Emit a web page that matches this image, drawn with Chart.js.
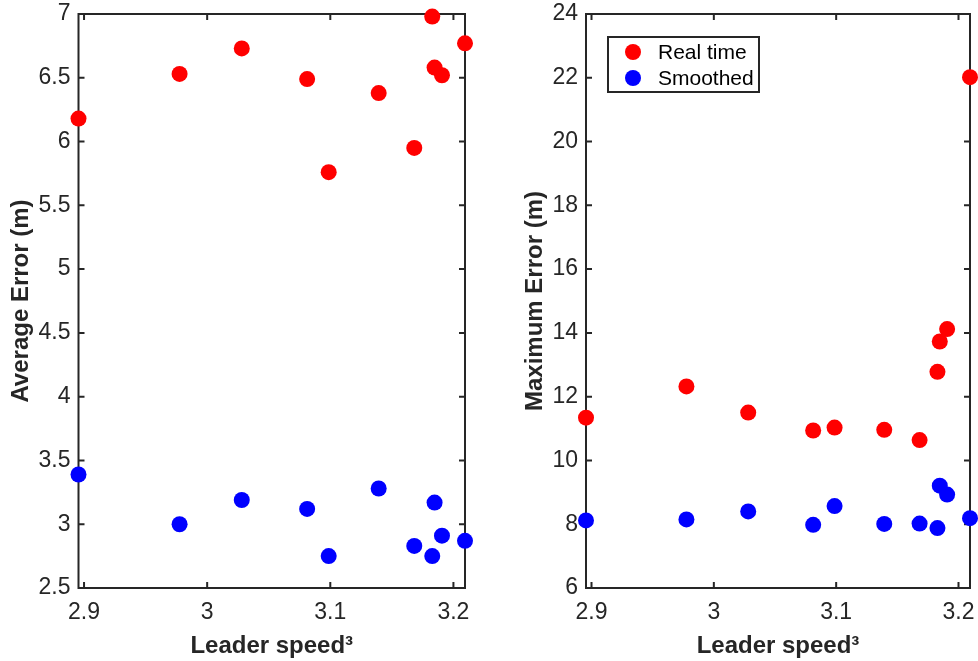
<!DOCTYPE html>
<html>
<head>
<meta charset="utf-8">
<script src="https://cdn.jsdelivr.net/npm/chart.js@4"></script>
<style>
  body { margin: 0; background: #fff; }
  #wrap { position: relative; width: 978px; height: 661px; }
  canvas { position: absolute; top: 0; }
</style>
</head>
<body>
<div id="wrap">
  <canvas id="avg-chart" width="489" height="661" style="left:0"></canvas>
  <canvas id="max-chart" width="488" height="661" style="left:490px"></canvas>
</div>
<script>
// leader speed (x) shared by both panels
const leaderSpeed = [2.8955, 2.9776, 3.0281, 3.0812, 3.0987, 3.1393, 3.1682, 3.1828, 3.1847, 3.1907, 3.2094];
const avgReal   = [6.18, 6.53, 6.73, 6.49, 5.76, 6.38, 5.95, 6.98, 6.58, 6.52, 6.77];
const avgSmooth = [3.39, 3.00, 3.19, 3.12, 2.75, 3.28, 2.83, 2.75, 3.17, 2.91, 2.87];
const maxReal   = [11.34, 12.32, 11.50, 10.94, 11.03, 10.96, 10.64, 12.78, 13.73, 14.12, 22.02];
const maxSmooth = [8.12, 8.15, 8.40, 7.98, 8.57, 8.01, 8.02, 7.88, 9.21, 8.93, 8.19];
const xTicks = [2.9, 3.0, 3.1, 3.2];
const seriesNames = ['Real time', 'Smoothed'];

const FONT = "'Liberation Sans', Arial, Helvetica, sans-serif";
const INK = '#262626';

function points(ys) {
    return leaderSpeed.map((x, i) => ({ x: x, y: ys[i] }));
}

// box round the plot area with inward ticks on all four sides (matlab style)
const boxPlugin = {
    id: 'box',
    beforeDatasetsDraw(chart) {
        const { ctx, chartArea: a, scales } = chart;
        ctx.save();
        ctx.strokeStyle = INK;
        ctx.lineWidth = 2;
        ctx.strokeRect(a.left, a.top, a.right - a.left, a.bottom - a.top);
        ctx.beginPath();
        scales.x.ticks.forEach(t => {
            const px = scales.x.getPixelForValue(t.value);
            ctx.moveTo(px, a.bottom); ctx.lineTo(px, a.bottom - 6);
            ctx.moveTo(px, a.top); ctx.lineTo(px, a.top + 6);
        });
        scales.y.ticks.forEach(t => {
            const py = scales.y.getPixelForValue(t.value);
            ctx.moveTo(a.left, py); ctx.lineTo(a.left + 6, py);
            ctx.moveTo(a.right, py); ctx.lineTo(a.right - 6, py);
        });
        ctx.stroke();
        ctx.restore();
    }
};

const legendBoxPlugin = {
    id: 'legendBox',
    afterDatasetsDraw(chart, args, opts) {
        if (!opts.show) return;
        const { ctx, chartArea: a } = chart;
        const x0 = a.left + 22, y0 = 37, w = 151, h = 55;
        ctx.save();
        ctx.fillStyle = '#fff';
        ctx.fillRect(x0, y0, w, h);
        ctx.strokeStyle = INK;
        ctx.lineWidth = 2;
        ctx.strokeRect(x0, y0, w, h);
        ctx.font = '21px ' + FONT;
        ctx.textBaseline = 'middle';
        chart.data.datasets.forEach((ds, i) => {
            const cy = y0 + 15 + i * 26;
            ctx.fillStyle = ds.backgroundColor;
            ctx.beginPath();
            ctx.arc(x0 + 25, cy, 8, 0, Math.PI * 2);
            ctx.fill();
            ctx.fillStyle = '#000';
            ctx.fillText(ds.label, x0 + 50, cy + 1);
        });
        ctx.restore();
    }
};

function makeChart(id, real, smooth, yMin, yMax, yStep, yTitle, yWidth, padLeft, padRight, showLegend) {
    const ctx = document.getElementById(id).getContext('2d');
    return new Chart(ctx, {
        type: 'scatter',
        data: {
            datasets: [
                { label: seriesNames[0], data: points(real), backgroundColor: '#ff0000', borderWidth: 0, pointRadius: 8, clip: false },
                { label: seriesNames[1], data: points(smooth), backgroundColor: '#0000ff', borderWidth: 0, pointRadius: 8, clip: false }
            ]
        },
        options: {
            responsive: false,
            animation: false,
            layout: { padding: { left: padLeft, right: padRight, top: 14, bottom: 0 } },
            plugins: {
                legend: { display: false },
                tooltip: { enabled: false },
                legendBox: { show: showLegend }
            },
            scales: {
                x: {
                    type: 'linear',
                    min: leaderSpeed[0],
                    max: leaderSpeed[leaderSpeed.length - 1],
                    afterBuildTicks: s => { s.ticks = xTicks.map(v => ({ value: v })); },
                    afterFit: s => { s.height = 73; s.paddingLeft = 0; s.paddingRight = 0; },
                    grid: { display: false, drawTicks: false },
                    border: { display: false },
                    ticks: {
                        color: INK, padding: 11, maxRotation: 0, autoSkip: false,
                        font: { family: FONT, size: 23 },
                        callback: v => String(+v.toFixed(2))
                    },
                    title: {
                        display: true, text: 'Leader speed³', color: INK, padding: 0,
                        font: { family: FONT, size: 24, weight: 'bold' }
                    }
                },
                y: {
                    min: yMin,
                    max: yMax,
                    afterFit: s => { s.width = yWidth; s.paddingTop = 0; s.paddingBottom = 0; },
                    grid: { display: false, drawTicks: false },
                    border: { display: false },
                    ticks: {
                        stepSize: yStep, color: INK, padding: 8,
                        font: { family: FONT, size: 23 },
                        callback: v => String(+v.toFixed(2))
                    },
                    title: {
                        display: true, text: yTitle, color: INK, padding: 0,
                        font: { family: FONT, size: 24, weight: 'bold' }
                    }
                }
            }
        },
        plugins: [boxPlugin, legendBoxPlugin]
    });
}

makeChart('avg-chart', avgReal, avgSmooth, 2.5, 7, 0.5, 'Average Error (m)', 72, 6.5, 24, false);
makeChart('max-chart', maxReal, maxSmooth, 6, 24, 2, 'Maximum Error (m)', 65.4, 30.6, 6.3, true);
</script>
</body>
</html>
